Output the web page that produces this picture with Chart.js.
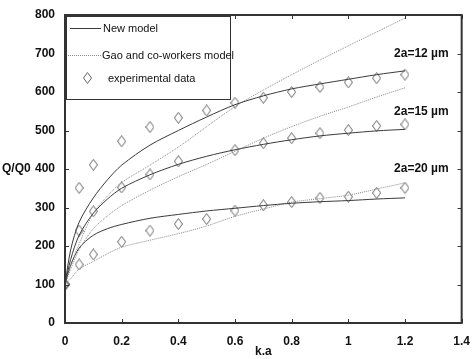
<!DOCTYPE html>
<html>
<head>
<meta charset="utf-8">
<script src="https://cdn.jsdelivr.net/npm/chart.js@4.4.0/dist/chart.umd.min.js"></script>
<style>
  html, body { margin: 0; padding: 0; background: #fff; }
  #wrap { width: 473px; height: 359px; }
</style>
</head>
<body>
<div id="wrap"><canvas id="myChart" width="473" height="359"></canvas></div>
<script>
// model curves share one k.a grid, experiments another
const kaModel = [0, 0.02, 0.05, 0.1, 0.15, 0.2, 0.3, 0.4, 0.5, 0.6, 0.7, 0.8, 0.9, 1.0, 1.1, 1.2]
const newModel12 = [100, 190, 262, 325, 372, 410, 462, 500, 535, 567, 590, 608, 621, 633, 645, 655]
const gaoModel12 = [100, 150, 205, 285, 330, 365, 410, 457, 510, 562, 605, 645, 683, 720, 756, 792]
const newModel15 = [100, 165, 228, 285, 322, 350, 385, 412, 433, 450, 464, 476, 486, 493, 499, 503]
const gaoModel15 = [100, 140, 190, 245, 278, 305, 345, 380, 412, 446, 480, 510, 537, 561, 587, 611]
const newModel20 = [100, 150, 195, 228, 245, 256, 272, 282, 291, 298, 305, 311, 315, 318, 322, 325]
const gaoModel20 = [100, 115, 140, 160, 180, 197, 215, 232, 252, 277, 296, 314, 323, 332, 348, 364]

const kaExp = [0, 0.05, 0.1, 0.2, 0.3, 0.4, 0.5, 0.6, 0.7, 0.8, 0.9, 1.0, 1.1, 1.2]
const exp12 = [100, 351, 411, 472, 509, 533, 552, 572, 585, 600, 613, 625, 636, 645]
const exp15 = [100, 240, 290, 352, 386, 420, null, 449, 467, 480, 493, 501, 512, 516]
const exp20 = [100, 152, 178, 211, 240, 257, 270, 292, 306, 314, 325, 328, 338, 351]

const xTicks = [0, 0.2, 0.4, 0.6, 0.8, 1, 1.2, 1.4]
const yTicks = [0, 100, 200, 300, 400, 500, 600, 700, 800]

const curveLabels = [['2a=12 \u00b5m', 700], ['2a=15 \u00b5m', 548], ['2a=20 \u00b5m', 400]]
const legendItems = ['New model', 'Gao and co-workers model', 'experimental data']

const ctx = document.getElementById('myChart')
const boldFont = 'bold 12px "Liberation Sans", Arial, sans-serif'

// tall diamond marker
const diamond = document.createElement('canvas')
diamond.width = 9
diamond.height = 12
{
    const d = diamond.getContext('2d')
    d.strokeStyle = '#666'
    d.lineWidth = 1
    d.beginPath()
    d.moveTo(4.5, 0.5)
    d.lineTo(8.5, 6)
    d.lineTo(4.5, 11.5)
    d.lineTo(0.5, 6)
    d.closePath()
    d.stroke()
}

const pts = (xs, ys) => xs.map((x, i) => ({ x: x, y: ys[i] }))

const solid = (ys) => ({
    data: pts(kaModel, ys), showLine: true, pointRadius: 0,
    borderColor: '#3a3a3a', borderWidth: 1, tension: 0.3
})
const dotted = (ys) => ({
    data: pts(kaModel, ys), showLine: true, pointRadius: 0,
    borderColor: '#888', borderWidth: 1, borderDash: [1, 1], tension: 0.3
})
const markers = (ys) => ({
    data: pts(kaExp, ys), showLine: false, pointStyle: diamond, pointRadius: 5
})

const framePlugin = {
    id: 'frame',
    afterDraw(chart) {
        const c = chart.ctx
        const a = chart.chartArea
        const sx = chart.scales.x
        const sy = chart.scales.y
        c.save()
        // ticks inward on all four sides
        c.strokeStyle = '#333'
        c.lineWidth = 1
        c.beginPath()
        xTicks.forEach(v => {
            const px = Math.round(sx.getPixelForValue(v)) + 0.5
            c.moveTo(px, a.bottom); c.lineTo(px, a.bottom - 4)
            c.moveTo(px, a.top); c.lineTo(px, a.top + 4)
        })
        yTicks.forEach(v => {
            const py = Math.round(sy.getPixelForValue(v)) + 0.5
            c.moveTo(a.left, py); c.lineTo(a.left + 4, py)
            c.moveTo(a.right, py); c.lineTo(a.right - 4, py)
        })
        c.stroke()
        c.lineWidth = 2
        c.strokeStyle = '#333'
        c.strokeRect(a.left, a.top, a.right - a.left, a.bottom - a.top)

        // y title, horizontal beside 400
        c.fillStyle = '#111'
        c.font = boldFont
        c.textBaseline = 'middle'
        c.textAlign = 'left'
        c.fillText('Q/Q0', 2, sy.getPixelForValue(400))

        // curve size labels
        c.textAlign = 'right'
        curveLabels.forEach(([t, v]) => c.fillText(t, a.right - 13, sy.getPixelForValue(v)))

        // legend box
        const lx = a.left + 1, ly = a.top + 1, lw = 164, lh = 83
        c.fillStyle = '#fff'
        c.fillRect(lx, ly, lw, lh)
        c.lineWidth = 1
        c.strokeStyle = '#333'
        c.strokeRect(lx + 0.5, ly + 0.5, lw, lh)
        c.strokeStyle = '#3a3a3a'
        c.beginPath(); c.moveTo(lx + 4, ly + 12.5); c.lineTo(lx + 35, ly + 12.5); c.stroke()
        c.strokeStyle = '#888'
        c.setLineDash([1, 1])
        c.beginPath(); c.moveTo(lx + 2, ly + 39.5); c.lineTo(lx + 35, ly + 39.5); c.stroke()
        c.setLineDash([])
        c.drawImage(diamond, lx + 17, ly + 56)
        c.fillStyle = '#111'
        c.font = '11px "Liberation Sans", Arial, sans-serif'
        c.textAlign = 'left'
        c.fillText(legendItems[0], lx + 37, ly + 13)
        c.fillText(legendItems[1], lx + 36, ly + 40)
        c.fillText(legendItems[2], lx + 42, ly + 63)
        c.restore()
    }
}

const tickFont = { family: '"Liberation Sans"', size: 12, weight: 'bold' }

const chart = new Chart(ctx, {
    type: 'scatter',
    data: {
        datasets: [
            solid(newModel12), dotted(gaoModel12), markers(exp12),
            solid(newModel15), dotted(gaoModel15), markers(exp15),
            solid(newModel20), dotted(gaoModel20), markers(exp20)
        ]
    },
    options: {
        responsive: false,
        animation: false,
        layout: { padding: { top: 15, right: 8, left: 0, bottom: 0 } },
        plugins: { legend: { display: false }, tooltip: { enabled: false } },
        scales: {
            x: {
                type: 'linear', min: 0, max: 1.4,
                afterBuildTicks: s => { s.ticks = xTicks.map(v => ({ value: v })) },
                afterFit: s => { s.height = 36 },
                grid: { display: false },
                border: { display: false },
                ticks: { color: '#111', font: tickFont, padding: 3, maxRotation: 0, callback: v => String(+v.toFixed(1)) },
                title: { display: true, text: 'k.a', color: '#111', font: tickFont, padding: 0 }
            },
            y: {
                type: 'linear', min: 0, max: 800,
                afterBuildTicks: s => { s.ticks = yTicks.map(v => ({ value: v })) },
                afterFit: s => { s.width = 65 },
                grid: { display: false },
                border: { display: false },
                ticks: { color: '#111', font: tickFont, padding: 2 }
            }
        }
    },
    plugins: [framePlugin]
})
</script>
</body>
</html>
